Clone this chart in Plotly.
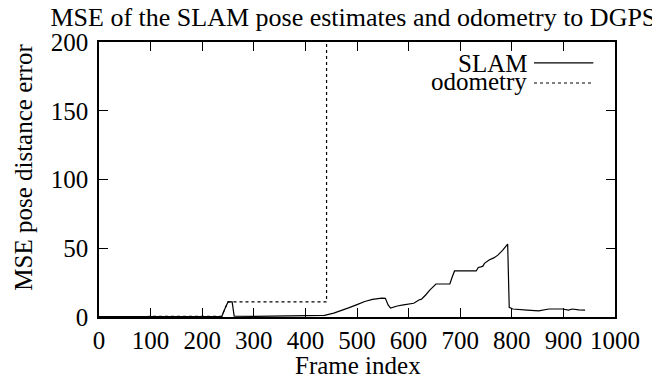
import plotly.graph_objects as go

# Frame index / MSE samples for the SLAM pose estimates
slam_frames = [0, 100, 200, 238, 244, 250, 258, 262, 300, 350, 400, 437, 455, 470,
               485, 500, 515, 530, 540, 548, 555, 560, 565, 578, 590, 600, 610,
               620, 625, 633, 641, 653, 680, 684, 689, 731, 735, 740, 744, 747,
               756, 765, 773, 782, 792, 795, 802, 830, 852, 872, 898, 910, 917,
               930, 942]
slam_mse = [0.3, 0.3, 0.4, 0.5, 6.0, 11.0, 11.0, 0.6, 0.5, 0.6, 0.8, 1.2, 2.8, 4.6,
            6.8, 9.0, 11.3, 12.8, 13.5, 13.7, 13.6, 9.0, 6.5, 8.0, 8.8, 9.4, 10.0,
            12.4, 13.0, 16.0, 19.6, 24.0, 24.0, 28.5, 33.5, 33.5, 36.0, 36.5, 37.0,
            39.0, 41.5, 43.0, 45.0, 48.5, 53.0, 7.0, 5.8, 5.0, 4.4, 5.8, 5.8, 5.0,
            5.8, 5.2, 5.0]

# Frame index / MSE samples for the odometry
odo_frames = [0, 100, 200, 238, 244, 250, 258, 300, 350, 400, 441, 441]
odo_mse = [0.3, 0.3, 0.4, 0.5, 6.0, 11.0, 11.0, 11.0, 11.0, 11.0, 11.0, 200.0]

x_ticks = [0, 100, 200, 300, 400, 500, 600, 700, 800, 900, 1000]
y_ticks = [0, 50, 100, 150, 200]

FONT = "Liberation Serif, Times New Roman, serif"
TICK_SIZE = 25
LABEL_SIZE = 25

fig = go.Figure()
fig.add_trace(go.Scatter(x=slam_frames, y=slam_mse, mode="lines", name="SLAM",
                         line=dict(color="black", width=1.2)))
fig.add_trace(go.Scatter(x=odo_frames, y=odo_mse, mode="lines", name="odometry",
                         line=dict(color="black", width=1.2, dash="3px,3px")))

axis_common = dict(showgrid=False, zeroline=False, showline=True, linecolor="black",
                   linewidth=1.5, mirror="ticks", ticks="inside", ticklen=9,
                   tickwidth=1, tickcolor="black",
                   tickfont=dict(family=FONT, size=TICK_SIZE, color="black"))

fig.update_xaxes(range=[0, 1000], tickvals=x_ticks, ticktext=[str(t) for t in x_ticks],
                 **axis_common)
fig.update_yaxes(range=[0, 200], tickvals=y_ticks, ticktext=[str(t) for t in y_ticks],
                 ticklabelstandoff=4, **axis_common)

# Axis titles
fig.add_annotation(xref="paper", yref="paper", x=0.502, y=-0.175, text="Frame index",
                   showarrow=False, xanchor="center", yanchor="middle",
                   font=dict(family=FONT, size=LABEL_SIZE, color="black"))
fig.add_annotation(xref="paper", yref="paper", x=-0.148, y=0.545,
                   text="MSE pose distance error", textangle=-90,
                   showarrow=False, xanchor="center", yanchor="middle",
                   font=dict(family=FONT, size=LABEL_SIZE, color="black"))

# Key: right-aligned labels with line samples to their right
key = [("SLAM", "solid", 0.922, 0.924), ("odometry", "3px,3px", 0.858, 0.851)]
for label, dash, yk, yl in key:
    fig.add_annotation(xref="paper", yref="paper", x=0.834, y=yk, text=label,
                       showarrow=False, xanchor="right", yanchor="middle",
                       font=dict(family=FONT, size=25, color="black"))
    fig.add_shape(type="line", xref="paper", yref="paper", x0=0.843, x1=0.958,
                  y0=yl, y1=yl, line=dict(color="black", width=1.2, dash=dash))

fig.update_layout(
    width=652, height=381,
    margin=dict(l=99, r=32, t=42, b=64),
    paper_bgcolor="white", plot_bgcolor="white",
    showlegend=False,
    title=dict(text="MSE of the SLAM pose estimates and odometry to DGPS",
               x=0.542, xanchor="center", y=0.955, yanchor="middle",
               font=dict(family=FONT, size=26, color="black")),
)

fig.write_html("out.html")
